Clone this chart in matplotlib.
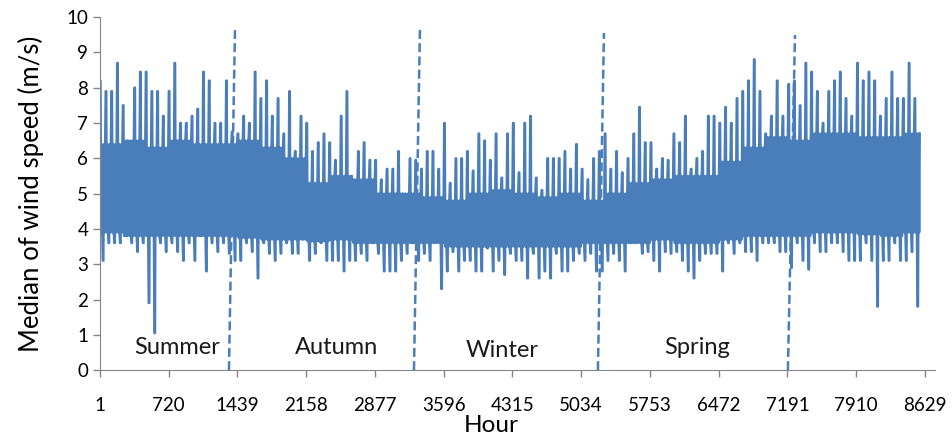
import numpy as np
import matplotlib
matplotlib.use("Agg")
import matplotlib.pyplot as plt

plt.rcParams["font.family"] = ["Lato", "DejaVu Sans"]

# hourly medians, summarised per 60-hour block (peak, trough)
block_hours = 60
peak = [
    8.2, 7.9, 7.9, 8.7, 7.5, 6.4, 8.0, 8.45, 8.45, 7.9,
    7.9, 7.2, 7.9, 8.7, 7.0, 7.0, 7.2, 7.4, 8.45, 8.2,
    7.0, 7.0, 8.2, 6.75, 6.7, 7.2, 7.0, 8.45, 7.7,
    8.2, 7.2, 7.7, 6.7, 7.9, 6.2, 7.2, 7.0, 6.2, 6.45, 6.7,
    6.45, 5.95, 7.2, 7.9, 5.3, 6.2, 6.45, 5.95, 5.95, 5.4,
    5.7, 5.7, 6.2, 4.9, 6.0, 5.95, 5.7, 6.2,
    6.2, 5.7, 7.0, 5.3, 6.0, 6.0, 6.2, 5.65, 6.7, 6.5,
    5.95, 6.7, 5.45, 6.7, 7.0, 5.6, 7.0, 7.2, 5.45, 5.1,
    6.0, 6.0, 6.0, 6.2, 5.7, 6.4, 5.7, 5.4, 6.0,
    6.2, 6.7, 5.7, 6.2, 5.6, 6.0, 6.7, 7.45, 6.45, 6.45,
    5.7, 6.0, 5.95, 6.7, 6.45, 7.2, 5.7, 6.0, 6.2, 7.2,
    7.2, 7.0, 7.45, 7.0, 7.7, 7.9, 8.2, 8.8, 7.9,
    6.7, 7.2, 8.2, 7.2, 8.1, 8.2, 7.5, 8.7, 8.45, 7.9,
    7.0, 7.9, 8.2, 8.45, 7.7, 7.2, 8.7, 8.2, 8.45, 8.2,
    7.2, 7.7, 8.45, 7.7, 7.7, 8.7, 7.7,
]
trough = [
    3.1, 3.6, 3.6, 3.6, 3.8, 3.6, 3.35, 3.6, 1.9, 1.05,
    3.6, 3.35, 3.6, 3.35, 3.1, 3.6, 3.1, 3.8, 2.8, 3.6,
    3.35, 3.6, 3.3, 3.1, 3.1, 3.6, 3.35, 2.6, 3.6,
    3.3, 3.1, 3.3, 3.6, 3.3, 3.3, 3.8, 3.1, 3.3, 3.6, 3.1,
    3.1, 3.1, 2.8, 3.1, 3.1, 3.3, 3.1, 3.6, 3.3, 2.8,
    2.8, 2.8, 3.1, 3.3, 3.6, 3.1, 3.3, 3.1,
    3.8, 2.3, 2.8, 3.35, 2.8, 3.1, 3.1, 2.8, 2.8, 3.45,
    2.8, 3.1, 2.7, 3.3, 3.1, 3.1, 2.6, 3.3, 2.6, 2.8,
    2.6, 3.3, 2.8, 2.8, 3.1, 3.3, 3.1, 3.3, 2.8,
    2.8, 3.1, 3.3, 3.1, 2.8, 3.6, 3.8, 3.3, 3.35, 3.1,
    2.8, 3.35, 3.3, 3.35, 3.1, 2.8, 2.6, 3.1, 3.3, 3.3,
    3.3, 2.8, 3.6, 3.3, 3.6, 3.35, 3.35, 3.1, 3.6,
    3.6, 3.6, 3.35, 3.35, 2.9, 3.6, 3.1, 2.85, 3.6, 3.35,
    3.35, 3.6, 3.6, 3.35, 3.1, 3.1, 3.1, 3.6, 3.1, 1.8,
    3.1, 3.1, 3.6, 3.1, 3.1, 3.35, 1.8,
]

# solid core of the band, read per 240-hour stretch
core_hours = 240
core_top = [
    6.4, 6.5, 6.3, 6.5, 6.4, 6.4,
    6.5, 6.3, 6.0, 5.3, 5.5, 5.4, 5.0, 5.0,
    4.9, 4.8, 5.0, 5.1, 5.0, 4.9, 5.0, 4.8,
    5.0, 5.3, 5.4, 5.5, 5.5, 5.9, 6.3, 6.6,
    6.5, 6.7, 6.7, 6.6, 6.6, 6.7,
]
core_bottom = [
    3.9, 3.8, 3.8, 3.8, 3.8, 3.8,
    3.75, 3.7, 3.7, 3.65, 3.7, 3.6, 3.6, 3.6,
    3.6, 3.5, 3.5, 3.5, 3.5, 3.5, 3.5, 3.6,
    3.6, 3.6, 3.7, 3.6, 3.6, 3.7, 3.8, 3.8,
    3.8, 3.9, 3.9, 3.85, 3.8, 3.9,
]

tick_hours = [1, 720, 1439, 2158, 2877, 3596, 4315, 5034, 5753, 6472, 7191, 7910, 8629]

# season boundaries (drawn slightly slanted in the original)
bound_bottom = [1350, 3285, 5209, 7196]
bound_top = [1413, 3348, 5272, 7270]
bound_top_y = [9.63, 9.72, 9.55, 9.49]

seasons = ["Summer", "Autumn", "Winter", "Spring"]
season_x = [806, 2480, 4205, 6245]
season_y = [0.65, 0.65, 0.55, 0.65]

blue = "#4A7EBB"

# each 60 h block: spike up, swing through the core, dip down, swing back
speed = []
for k, (hi, lo) in enumerate(zip(peak, trough)):
    c = min(k * block_hours // core_hours, len(core_top) - 1)
    ct, cb = core_top[c], core_bottom[c]
    speed += [hi, hi, cb, ct, cb, lo, lo, ct, cb, ct]
speed = np.array(speed)
hours = 1 + np.arange(len(speed)) * block_hours / 10

fig = plt.figure(figsize=(9.52, 4.37), dpi=100)
ax = fig.add_axes([0.105, 0.153, 0.877, 0.808])
ax.plot(hours, speed, color=blue, linewidth=1.7)

for xb, xt, yt in zip(bound_bottom, bound_top, bound_top_y):
    ax.plot([xb, xt], [0, yt], color=blue, linewidth=1.8, linestyle=(0, (3.6, 1.7)))

for name, x, y in zip(seasons, season_x, season_y):
    ax.text(x, y, name, ha="center", va="center", fontsize=17, color="#1a1a1a")

ax.set_xlim(1, 8733)
ax.set_ylim(0, 10)
ax.set_xticks(tick_hours)
ax.set_xticklabels([str(t) for t in tick_hours])
ax.set_yticks(range(0, 11))
ax.tick_params(axis="both", labelsize=13.5, color="#868686", length=5, width=1)
ax.tick_params(axis="x", pad=14)

for side in ["top", "right"]:
    ax.spines[side].set_visible(False)
for side in ["left", "bottom"]:
    ax.spines[side].set_color("#868686")

ax.set_xlabel("Hour", fontsize=17.5, labelpad=1)
ax.xaxis.label.set_x(0.468)
ax.set_ylabel("Median of wind speed (m/s)", fontsize=18.5, labelpad=16)

fig.savefig("out.png", dpi=100)
